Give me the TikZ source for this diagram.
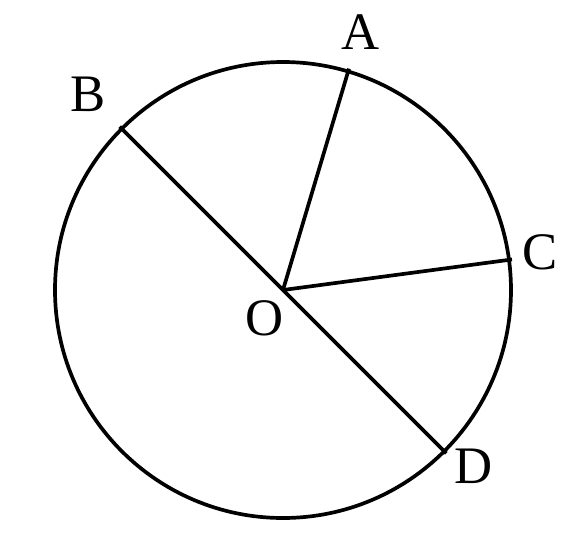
\documentclass[tikz,border=0pt]{standalone}
\usepackage{fontspec}
\setmainfont{Liberation Serif}
\usetikzlibrary{positioning}

\begin{document}
\begin{tikzpicture}[x=0.02cm,y=0.02cm,line width=2.1pt]
\tikzset{lbl/.style={font=\fontsize{30}{36}\selectfont,inner sep=0pt}}
\useasboundingbox (-283,-249) rectangle (288,290);
\coordinate(O) at (0,0);
\coordinate(A) at (73.4:231);
\coordinate(B) at (135:231);
\coordinate(C) at (7.6:231);
\coordinate(D) at (-45:231);
\node[lbl](lA) at (78,258) {A};
\node[lbl](lB) at (-195,196) {B};
\node[lbl](lC) at (257,38) {C};
\node[lbl](lD) at (191,-176) {D};
\node[lbl](lO) at (-18,-28) {O};

\draw (O) circle (228);
\draw (B) -- (D);
\draw (O) -- (A);
\draw (O) -- (C);
\end{tikzpicture}
\end{document}
